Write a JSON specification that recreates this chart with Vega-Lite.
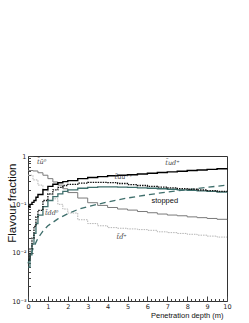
{
  "$schema": "https://vega.github.io/schema/vega-lite/v6.json",
  "width": 199,
  "height": 145,
  "autosize": {"type": "none"},
  "padding": {"left": 28, "top": 156, "right": 22, "bottom": 22},
  "background": "white",
  "config": {
    "view": {"stroke": "#333", "strokeWidth": 1},
    "font": "Liberation Sans",
    "axis": {"labelFont": "DejaVu Sans", "labelFontSize": 6.5, "labelColor": "#222", "titleFont": "Liberation Sans", "titleFontWeight": "normal", "titleColor": "#111", "grid": false, "domain": false, "tickColor": "#444"}
  },
  "datasets": {
    "A": [{"x":0,"v":0.09},{"x":0.1,"v":0.1},{"x":0.2,"v":0.11},{"x":0.3,"v":0.12},{"x":0.4,"v":0.14},{"x":0.5,"v":0.16},{"x":0.75,"v":0.2},{"x":1,"v":0.235},{"x":1.25,"v":0.26},{"x":1.5,"v":0.28},{"x":1.75,"v":0.295},{"x":2,"v":0.31},{"x":2.5,"v":0.34},{"x":3,"v":0.36},{"x":3.5,"v":0.375},{"x":4,"v":0.39},{"x":4.5,"v":0.4},{"x":5,"v":0.41},{"x":5.5,"v":0.425},{"x":6,"v":0.44},{"x":6.5,"v":0.455},{"x":7,"v":0.47},{"x":7.5,"v":0.485},{"x":8,"v":0.5},{"x":8.5,"v":0.515},{"x":9,"v":0.53},{"x":9.5,"v":0.545},{"x":10,"v":0.56}],
    "B": [{"x":0,"v":0.007},{"x":0.1,"v":0.012},{"x":0.2,"v":0.02},{"x":0.3,"v":0.035},{"x":0.4,"v":0.055},{"x":0.5,"v":0.075},{"x":0.75,"v":0.12},{"x":1,"v":0.165},{"x":1.25,"v":0.2},{"x":1.5,"v":0.225},{"x":1.75,"v":0.245},{"x":2,"v":0.26},{"x":2.5,"v":0.275},{"x":3,"v":0.285},{"x":3.5,"v":0.285},{"x":4,"v":0.28},{"x":4.5,"v":0.27},{"x":5,"v":0.255},{"x":5.5,"v":0.245},{"x":6,"v":0.235},{"x":6.5,"v":0.228},{"x":7,"v":0.22},{"x":7.5,"v":0.212},{"x":8,"v":0.205},{"x":8.5,"v":0.198},{"x":9,"v":0.192},{"x":9.5,"v":0.186},{"x":10,"v":0.18}],
    "C": [{"x":0,"v":0.005},{"x":0.1,"v":0.009},{"x":0.2,"v":0.015},{"x":0.3,"v":0.025},{"x":0.4,"v":0.04},{"x":0.5,"v":0.06},{"x":0.75,"v":0.09},{"x":1,"v":0.12},{"x":1.25,"v":0.145},{"x":1.5,"v":0.165},{"x":1.75,"v":0.185},{"x":2,"v":0.2},{"x":2.5,"v":0.215},{"x":3,"v":0.225},{"x":3.5,"v":0.23},{"x":4,"v":0.23},{"x":4.5,"v":0.228},{"x":5,"v":0.225},{"x":5.5,"v":0.22},{"x":6,"v":0.215},{"x":6.5,"v":0.21},{"x":7,"v":0.205},{"x":7.5,"v":0.2},{"x":8,"v":0.195},{"x":8.5,"v":0.19},{"x":9,"v":0.185},{"x":9.5,"v":0.18},{"x":10,"v":0.175}],
    "D": [{"x":0,"v":0.006},{"x":0.25,"v":0.012},{"x":0.5,"v":0.02},{"x":0.75,"v":0.028},{"x":1,"v":0.036},{"x":1.5,"v":0.05},{"x":2,"v":0.064},{"x":2.5,"v":0.078},{"x":3,"v":0.09},{"x":3.5,"v":0.1},{"x":4,"v":0.112},{"x":4.5,"v":0.123},{"x":5,"v":0.135},{"x":5.5,"v":0.146},{"x":6,"v":0.157},{"x":6.5,"v":0.168},{"x":7,"v":0.18},{"x":7.5,"v":0.19},{"x":8,"v":0.2},{"x":8.5,"v":0.213},{"x":9,"v":0.225},{"x":9.5,"v":0.237},{"x":10,"v":0.25}],
    "E": [{"x":0,"v":0.5},{"x":0.25,"v":0.49},{"x":0.5,"v":0.45},{"x":0.75,"v":0.4},{"x":1,"v":0.34},{"x":1.25,"v":0.29},{"x":1.5,"v":0.25},{"x":1.75,"v":0.21},{"x":2,"v":0.175},{"x":2.5,"v":0.135},{"x":3,"v":0.108},{"x":3.5,"v":0.095},{"x":4,"v":0.086},{"x":4.5,"v":0.08},{"x":5,"v":0.076},{"x":5.5,"v":0.071},{"x":6,"v":0.067},{"x":6.5,"v":0.063},{"x":7,"v":0.06},{"x":7.5,"v":0.058},{"x":8,"v":0.055},{"x":8.5,"v":0.053},{"x":9,"v":0.051},{"x":9.5,"v":0.049},{"x":10,"v":0.048}],
    "F": [{"x":0,"v":0.4},{"x":0.25,"v":0.32},{"x":0.5,"v":0.25},{"x":0.75,"v":0.2},{"x":1,"v":0.16},{"x":1.25,"v":0.13},{"x":1.5,"v":0.1},{"x":1.75,"v":0.08},{"x":2,"v":0.066},{"x":2.5,"v":0.048},{"x":3,"v":0.04},{"x":3.5,"v":0.036},{"x":4,"v":0.033},{"x":4.5,"v":0.032},{"x":5,"v":0.031},{"x":5.5,"v":0.03},{"x":6,"v":0.029},{"x":6.5,"v":0.027},{"x":7,"v":0.026},{"x":7.5,"v":0.025},{"x":8,"v":0.024},{"x":8.5,"v":0.023},{"x":9,"v":0.022},{"x":9.5,"v":0.021},{"x":10,"v":0.021}],
    "L": [{"x":0.45,"v":0.76,"t":"t̃ū⁰"},{"x":6.9,"v":0.72,"t":"t̃ud⁺"},{"x":4.35,"v":0.36,"t":"t̃uu⁺⁺"},{"x":0.85,"v":0.066,"t":"t̃dd⁰"},{"x":4.45,"v":0.021,"t":"t̃d̄⁺"}],
    "S": [{"x":6.2,"v":0.117,"t":"stopped"}]
  },
  "encoding": {
    "x": {"field": "x", "type": "quantitative",
      "scale": {"domain": [0, 10], "nice": false, "zero": false},
      "axis": {"values": [0,0.2,0.4,0.6,0.8,1,1.2,1.4,1.6,1.8,2,2.2,2.4,2.6,2.8,3,3.2,3.4,3.6,3.8,4,4.2,4.4,4.6,4.8,5,5.2,5.4,5.6,5.8,6,6.2,6.4,6.6,6.8,7,7.2,7.4,7.6,7.8,8,8.2,8.4,8.6,8.8,9,9.2,9.4,9.6,9.8,10],
        "labelExpr": "abs(datum.value - round(datum.value)) < 0.001 ? format(datum.value, 'd') : ''",
        "tickSize": {"condition": {"test": "abs(datum.value - round(datum.value)) < 0.001", "value": -5}, "value": -2.5},
        "labelPadding": 7, "labelFlush": false,
        "title": "Penetration depth (m)", "titleFontSize": 7.5, "titleAnchor": "end", "titlePadding": 2, "titleX": 195}},
    "y": {"field": "v", "type": "quantitative",
      "scale": {"type": "log", "domain": [0.001, 1], "nice": false},
      "axis": {"values": [0.001,0.002,0.003,0.004,0.005,0.006,0.007,0.008,0.009,0.01,0.02,0.03,0.04,0.05,0.06,0.07,0.08,0.09,0.1,0.2,0.3,0.4,0.5,0.6,0.7,0.8,0.9,1],
        "labelExpr": "abs(log(datum.value)/LN10 - round(log(datum.value)/LN10)) < 0.001 ? (datum.value > 0.5 ? '1' : datum.value > 0.05 ? '10⁻¹' : datum.value > 0.005 ? '10⁻²' : '10⁻³') : ''",
        "tickSize": {"condition": {"test": "abs(log(datum.value)/LN10 - round(log(datum.value)/LN10)) < 0.001", "value": -5}, "value": -2.5},
        "labelPadding": 7, "labelFlush": false,
        "title": "Flavour fraction", "titleFontSize": 11.5, "titleAnchor": "end", "titleAngle": 270, "titleAlign": "right", "titleBaseline": "bottom", "titleX": -11, "titleY": 7}}
  },
  "layer": [
    {"data": {"name": "D"}, "mark": {"type": "line", "color": "#3f6f6c", "strokeWidth": 1.3, "strokeDash": [6, 4]}},
    {"data": {"name": "F"}, "mark": {"type": "line", "color": "#b5b5b5", "strokeWidth": 1, "interpolate": "step-after", "strokeDash": [1.5, 1]}},
    {"data": {"name": "E"}, "mark": {"type": "line", "color": "#7a7a7a", "strokeWidth": 1, "interpolate": "step-after"}},
    {"data": {"name": "C"}, "mark": {"type": "line", "color": "#3f6f6c", "strokeWidth": 1.3, "interpolate": "step-after"}},
    {"data": {"name": "B"}, "mark": {"type": "line", "color": "#111", "strokeWidth": 1.3, "interpolate": "step-after", "strokeDash": [1.5, 1]}},
    {"data": {"name": "A"}, "mark": {"type": "line", "color": "#000", "strokeWidth": 1.4, "interpolate": "step-after"}},
    {"data": {"name": "L"}, "mark": {"type": "text", "font": "DejaVu Serif", "fontStyle": "italic", "fontSize": 6.5, "color": "#444", "align": "left"}, "encoding": {"text": {"field": "t"}}},
    {"data": {"name": "S"}, "mark": {"type": "text", "font": "Liberation Sans", "fontSize": 7.5, "color": "#111", "align": "left"}, "encoding": {"text": {"field": "t"}}}
  ]
}
